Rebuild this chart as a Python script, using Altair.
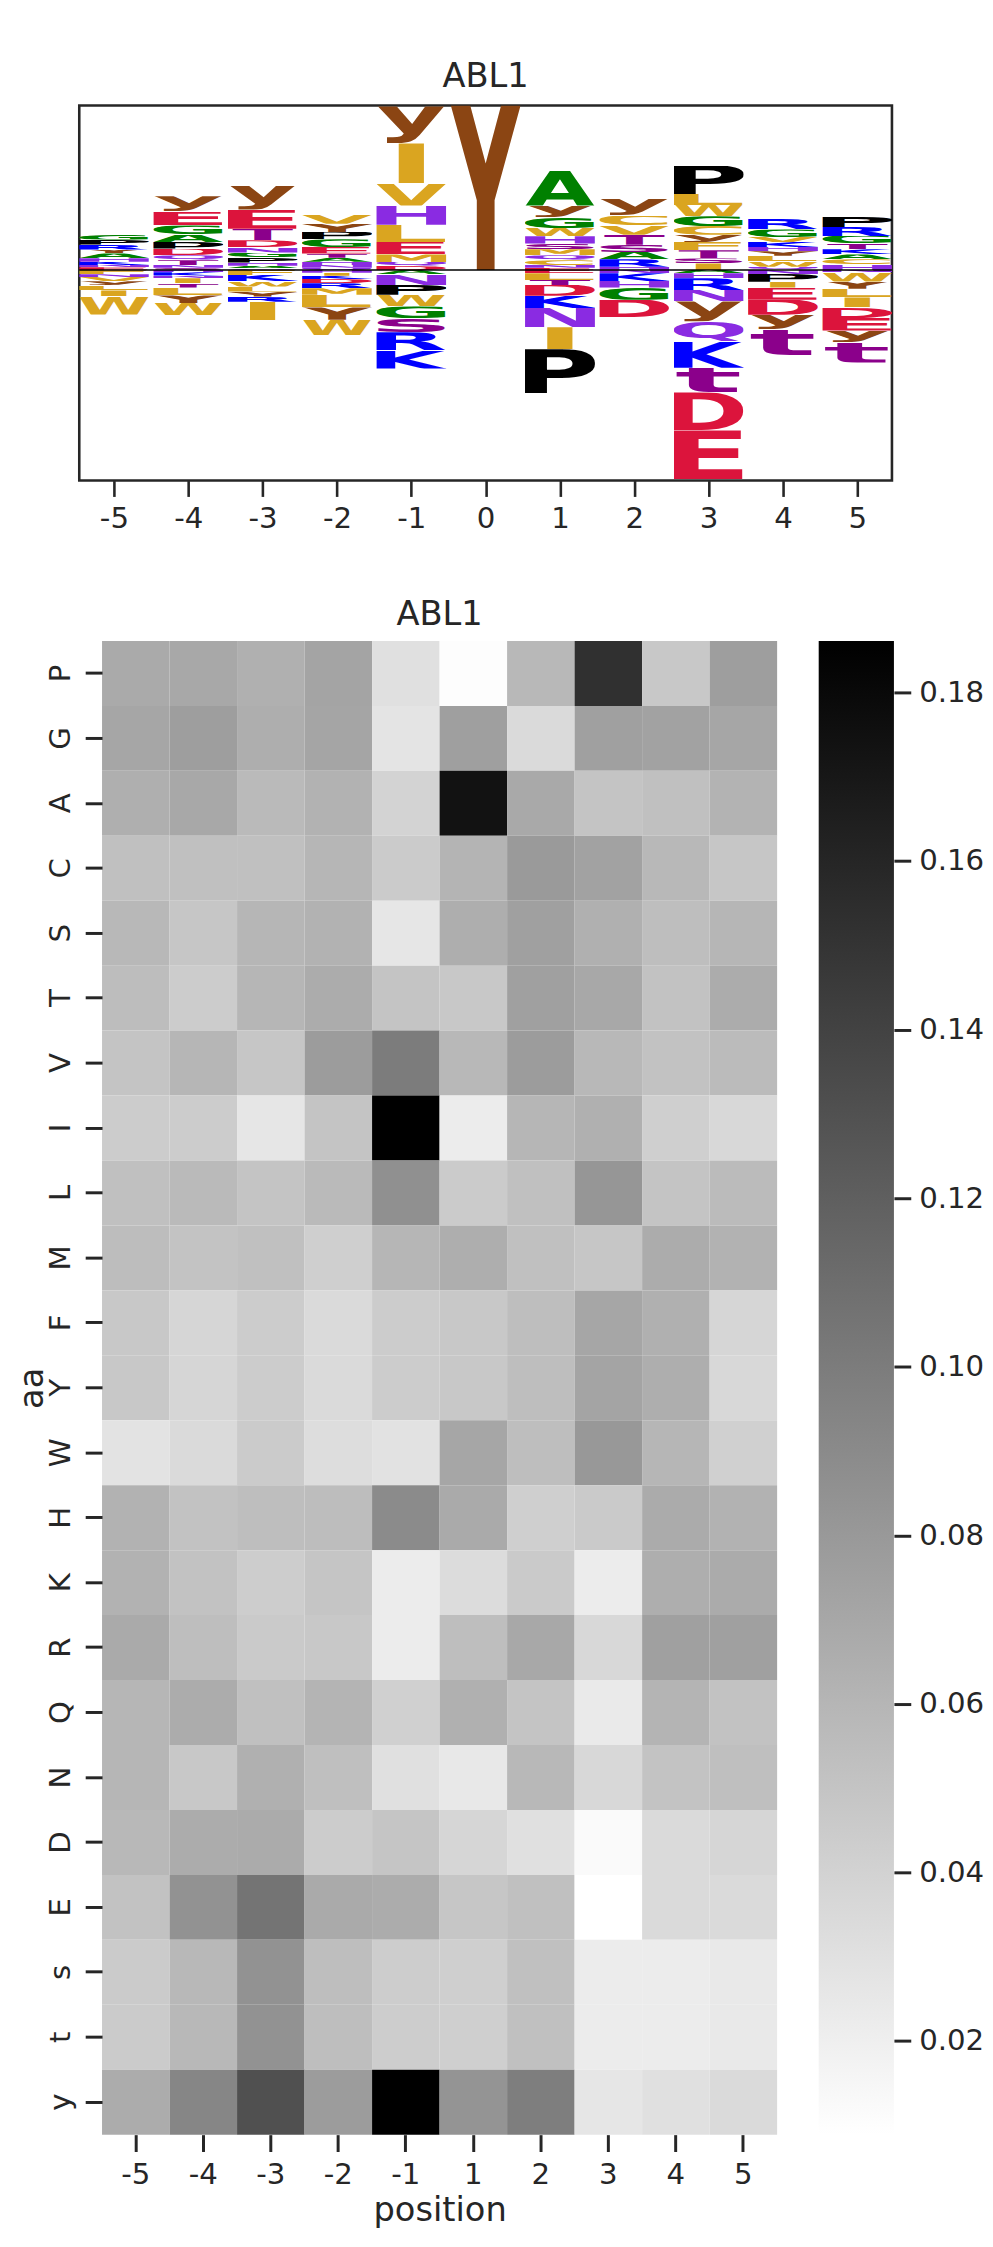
import altair as alt
import pandas as pd
from urllib.parse import quote

FONT = "DejaVu Sans"
INK = "#262626"
TITLE = "ABL1"
LABEL_SIZE = 29.5
TITLE_SIZE = 34

# ---------------- sequence logo (letter, height) stacked outward from zero ----
above_m5 = [("E", .027), ("N", .023), ("K", .033), ("H", .037), ("A", .047), ("Y", .04), ("R", .05), ("P", .05), ("G", .057)]
below_m5 = [("F", .043), ("N", .027), ("V", .043), ("y", .043), ("L", .05), ("I", .06), ("W", .183)]
above_m4 = [("S", .023), ("N", .027), ("T", .05), ("Q", .05), ("D", .067), ("P", .067), ("A", .073), ("G", .093), ("E", .14), ("y", .153)]
below_m4 = [("H", .023), ("K", .033), ("N", .027), ("I", .05), ("T", .043), ("L", .08), ("Y", .077), ("W", .123)]
above_m3 = [("Q", .02), ("A", .023), ("H", .033), ("P", .05), ("G", .05), ("N", .057), ("D", .067), ("T", .117), ("E", .193), ("y", .24)]
below_m3 = [("F", .05), ("K", .06), ("W", .057), ("L", .05), ("Y", .05), ("R", .053), ("I", .183)]
above_m2 = [("Q", .023), ("N", .027), ("H", .033), ("A", .04), ("T", .043), ("E", .067), ("G", .077), ("P", .073), ("Y", .083), ("V", .093)]
below_m2 = [("H", .027), ("I", .03), ("K", .033), ("D", .043), ("R", .05), ("M", .067), ("L", .127), ("Y", .123), ("W", .16)]
above_m1 = [("D", .04), ("Q", .04), ("M", .077), ("E", .127), ("L", .173), ("H", .193), ("V", .227), ("I", .4), ("y", .373)]
below_m1 = [("A", .043), ("N", .107), ("P", .1), ("W", .117), ("G", .123), ("S", .137), ("R", .183), ("K", .183)]
above_0 = [("Y", 1.66)]
below_0 = []
above_1 = [("E", .023), ("N", .027), ("C", .05), ("Q", .05), ("M", .06), ("S", .057), ("H", .073), ("W", .083), ("G", .11), ("y", .117), ("A", .35)]
below_1 = [("E", .033), ("L", .067), ("T", .05), ("D", .11), ("K", .123), ("N", .193), ("I", .223), ("P", .44)]
above_2 = [("H", .033), ("R", .077), ("A", .073), ("S", .073), ("T", .1), ("V", .093), ("C", .1), ("y", .167)]
below_2 = [("N", .033), ("K", .077), ("H", .067), ("G", .123), ("D", .177)]
above_3 = [("I", .067), ("S", .05), ("T", .083), ("F", .083), ("y", .073), ("C", .087), ("G", .1), ("W", .113), ("L", .11), ("P", .283)]
below_3 = [("A", .033), ("H", .05), ("R", .117), ("N", .117), ("y", .2), ("Q", .2), ("K", .267), ("t", .25), ("D", .383), ("E", .493)]
above_4 = [("Q", .033), ("W", .057), ("L", .053), ("Y", .047), ("H", .043), ("K", .05), ("V", .05), ("G", .077), ("R", .107)]
below_4 = [("N", .04), ("P", .077), ("I", .06), ("E", .123), ("D", .15), ("y", .15), ("t", .257)]
above_5 = [("H", .057), ("C", .053), ("A", .047), ("K", .053), ("T", .057), ("G", .077), ("R", .09), ("P", .1)]
below_5 = [("N", .023), ("W", .093), ("Y", .073), ("L", .087), ("I", .1), ("D", .107), ("E", .127), ("y", .123), ("t", .2)]

logo_positions = [-5, -4, -3, -2, -1, 0, 1, 2, 3, 4, 5]
logo_above = [above_m5, above_m4, above_m3, above_m2, above_m1, above_0, above_1, above_2, above_3, above_4, above_5]
logo_below = [below_m5, below_m4, below_m3, below_m2, below_m1, below_0, below_1, below_2, below_3, below_4, below_5]

# ---------------- heatmap ---------------------------------------------------
aa_order = ["P", "G", "A", "C", "S", "T", "V", "I", "L", "M", "F", "Y", "W", "H", "K", "R", "Q", "N", "D", "E", "s", "t", "y"]
pos_labels = ["-5", "-4", "-3", "-2", "-1", "1", "2", "3", "4", "5"]
row_P = [0.0680, 0.0693, 0.0638, 0.0721, 0.0304, 0.0103, 0.0582, 0.1527, 0.0471, 0.0763]
row_G = [0.0707, 0.0763, 0.0652, 0.0714, 0.0276, 0.0756, 0.0346, 0.0749, 0.0735, 0.0707]
row_A = [0.0645, 0.0693, 0.0568, 0.0624, 0.0395, 0.1736, 0.0686, 0.0499, 0.0527, 0.0617]
row_C = [0.0527, 0.0527, 0.0527, 0.0596, 0.0450, 0.0610, 0.0791, 0.0735, 0.0582, 0.0485]
row_S = [0.0582, 0.0485, 0.0596, 0.0624, 0.0262, 0.0652, 0.0749, 0.0638, 0.0540, 0.0596]
row_T = [0.0547, 0.0443, 0.0596, 0.0666, 0.0499, 0.0471, 0.0749, 0.0693, 0.0513, 0.0666]
row_V = [0.0499, 0.0596, 0.0485, 0.0777, 0.0999, 0.0582, 0.0777, 0.0582, 0.0513, 0.0561]
row_I = [0.0443, 0.0443, 0.0262, 0.0499, 0.1861, 0.0221, 0.0596, 0.0638, 0.0422, 0.0360]
row_L = [0.0527, 0.0568, 0.0499, 0.0568, 0.0860, 0.0450, 0.0527, 0.0819, 0.0499, 0.0561]
row_M = [0.0547, 0.0506, 0.0527, 0.0422, 0.0596, 0.0652, 0.0527, 0.0485, 0.0666, 0.0624]
row_F = [0.0471, 0.0374, 0.0443, 0.0346, 0.0443, 0.0471, 0.0540, 0.0707, 0.0638, 0.0374]
row_Y = [0.0471, 0.0374, 0.0443, 0.0346, 0.0443, 0.0471, 0.0540, 0.0721, 0.0652, 0.0360]
row_W = [0.0283, 0.0346, 0.0450, 0.0325, 0.0290, 0.0707, 0.0540, 0.0805, 0.0596, 0.0415]
row_H = [0.0624, 0.0513, 0.0540, 0.0547, 0.0895, 0.0680, 0.0422, 0.0457, 0.0673, 0.0624]
row_K = [0.0624, 0.0513, 0.0436, 0.0492, 0.0221, 0.0332, 0.0457, 0.0221, 0.0652, 0.0673]
row_R = [0.0680, 0.0540, 0.0457, 0.0471, 0.0221, 0.0540, 0.0693, 0.0360, 0.0749, 0.0749]
row_Q = [0.0596, 0.0666, 0.0527, 0.0610, 0.0415, 0.0638, 0.0499, 0.0235, 0.0610, 0.0513]
row_N = [0.0596, 0.0471, 0.0638, 0.0534, 0.0304, 0.0249, 0.0582, 0.0360, 0.0506, 0.0534]
row_D = [0.0582, 0.0666, 0.0673, 0.0443, 0.0492, 0.0374, 0.0304, 0.0124, 0.0346, 0.0374]
row_E = [0.0513, 0.0846, 0.1055, 0.0680, 0.0666, 0.0485, 0.0527, 0.0089, 0.0346, 0.0346]
row_s = [0.0450, 0.0582, 0.0846, 0.0540, 0.0436, 0.0422, 0.0527, 0.0221, 0.0221, 0.0242]
row_t = [0.0450, 0.0582, 0.0846, 0.0540, 0.0436, 0.0422, 0.0527, 0.0221, 0.0221, 0.0242]
row_y = [0.0666, 0.0930, 0.1305, 0.0777, 0.1861, 0.0832, 0.0985, 0.0262, 0.0304, 0.0346]
heat_rows = [row_P, row_G, row_A, row_C, row_S, row_T, row_V, row_I, row_L, row_M, row_F, row_Y,
             row_W, row_H, row_K, row_R, row_Q, row_N, row_D, row_E, row_s, row_t, row_y]
cbar_min, cbar_max = 0.0089, 0.1861
cbar_ticks = [0.02, 0.04, 0.06, 0.08, 0.10, 0.12, 0.14, 0.16, 0.18]

# ---------------- glyph styling --------------------------------------------
GOLD, BROWN, PURPLE, MAGENTA = "#DAA520", "#8B4513", "#8A2BE2", "#8B008B"
BLUE, RED, GREEN, BLACK = "#0000FF", "#DC143C", "#008000", "#000000"
letter_color = {
    "A": GREEN, "G": GREEN, "P": BLACK, "Y": BROWN, "y": BROWN,
    "I": GOLD, "V": GOLD, "L": GOLD, "F": GOLD, "W": GOLD, "M": GOLD, "C": GOLD,
    "H": PURPLE, "N": PURPLE, "Q": PURPLE, "K": BLUE, "R": BLUE, "D": RED, "E": RED,
    "S": MAGENTA, "T": MAGENTA, "s": MAGENTA, "t": MAGENTA,
}
# advance, ink xmin, ink xmax, ink ybottom, ink ytop (em units, DejaVu Sans Bold approx.)
glyph_metrics = {
    "A": (.774, .0, .774, 0, .729), "C": (.734, .05, .69, -.013, .742),
    "D": (.830, .092, .78, 0, .729), "E": (.683, .092, .62, 0, .729),
    "F": (.683, .092, .62, 0, .729), "G": (.821, .05, .76, -.013, .742),
    "H": (.837, .092, .745, 0, .729), "I": (.372, .092, .28, 0, .729),
    "K": (.775, .092, .79, 0, .729), "L": (.637, .092, .62, 0, .729),
    "M": (.995, .092, .90, 0, .729), "N": (.837, .092, .745, 0, .729),
    "P": (.733, .092, .69, 0, .729), "Q": (.850, .05, .80, -.16, .742),
    "R": (.770, .092, .76, 0, .729), "S": (.720, .06, .66, -.013, .742),
    "T": (.682, .0, .68, 0, .729), "V": (.774, .0, .774, 0, .729),
    "W": (1.103, .02, 1.08, 0, .729), "Y": (.724, -.01, .73, 0, .729),
    "s": (.595, .05, .55, -.013, .56), "t": (.478, .03, .45, 0, .70),
    "y": (.652, .0, .65, -.208, .547),
}
width_frac = {"I": .36, "t": .85, "T": .87}


def glyph_url(ch):
    adv, xmin, xmax, ybot, ytop = glyph_metrics[ch]
    frac = width_frac.get(ch, 1.0)
    fs = 100.0 / (ytop - ybot)
    tl = frac * 100.0 * adv / (xmax - xmin)
    x0 = 50 - frac * 50 - xmin / adv * tl
    base = ytop * fs
    svg = ('<svg xmlns="http://www.w3.org/2000/svg" width="100" height="100" viewBox="0 0 100 100" '
           'preserveAspectRatio="none"><text x="%.2f" y="%.2f" font-family="DejaVu Sans" font-weight="bold" '
           'font-size="%.2f" textLength="%.2f" lengthAdjust="spacingAndGlyphs" fill="%s">%s</text></svg>'
           % (x0, base, fs, tl, letter_color[ch], ch))
    return "data:image/svg+xml," + quote(svg, safe="")


half_w = 0.47
rows = []
for p, up, down in zip(logo_positions, logo_above, logo_below):
    acc = 0.0
    for ch, h in up:
        rows.append({"pos": p, "letter": ch, "x0": p - half_w, "x1": p + half_w,
                     "y0": acc, "y1": acc + h, "url": glyph_url(ch)})
        acc += h
    acc = 0.0
    for ch, h in down:
        rows.append({"pos": p, "letter": ch, "x0": p - half_w, "x1": p + half_w,
                     "y0": acc - h, "y1": acc, "url": glyph_url(ch)})
        acc -= h
logo_df = pd.DataFrame(rows)

xdom = [-5.466, 5.466]
ydom = [-2.123, 1.66]

letters = alt.Chart(logo_df).mark_image(aspect=False, clip=True).encode(
    x=alt.X("x0:Q", scale=alt.Scale(domain=xdom, nice=False, zero=False),
            axis=alt.Axis(values=logo_positions, labelExpr="datum.value", title=None, grid=False,
                          domain=False, ticks=True, tickSize=16, tickWidth=2.6, tickColor=INK,
                          labelFontSize=LABEL_SIZE, labelColor=INK, labelFont=FONT,
                          labelBaseline="alphabetic", labelPadding=31)),
    x2="x1:Q",
    y=alt.Y("y0:Q", scale=alt.Scale(domain=ydom, nice=False, zero=False), axis=None),
    y2="y1:Q",
    url="url:N",
)
zero_line = alt.Chart(pd.DataFrame({"y0": [0.0]})).mark_rule(color="black", strokeWidth=1.4).encode(
    y=alt.Y("y0:Q", scale=alt.Scale(domain=ydom, nice=False, zero=False), axis=None)
)
logo = alt.layer(letters, zero_line).properties(
    width=821, height=379,
    title=alt.TitleParams(TITLE, fontSize=TITLE_SIZE, font=FONT, color=INK, fontWeight="normal",
                          anchor="middle", frame="group", baseline="alphabetic", offset=-15),
    view=alt.ViewBackground(stroke=INK, strokeWidth=2.6),
)

heat_records = []
for aa, vals in zip(aa_order, heat_rows):
    for lab, v in zip(pos_labels, vals):
        heat_records.append({"aa": aa, "position": lab, "value": v})
heat_df = pd.DataFrame(heat_records)

heat = alt.Chart(heat_df).mark_rect().encode(
    x=alt.X("position:O", sort=pos_labels,
            scale=alt.Scale(range=[23, 705], paddingInner=0, paddingOuter=0),
            axis=alt.Axis(title="position", labelAngle=0, domain=False, tickSize=17, tickWidth=3,
                          tickColor=INK, labelFontSize=LABEL_SIZE, labelColor=INK, labelFont=FONT,
                          labelBaseline="alphabetic", labelPadding=32.5,
                          titleFontSize=TITLE_SIZE, titleFont=FONT, titleColor=INK,
                          titleFontWeight="normal", titleY=87, titleBaseline="alphabetic")),
    y=alt.Y("aa:O", sort=aa_order, scale=alt.Scale(paddingInner=0, paddingOuter=0),
            axis=alt.Axis(title="aa", offset=-23, domain=False, tickSize=17, tickWidth=3,
                          tickColor=INK, labelFontSize=LABEL_SIZE, labelColor=INK, labelFont=FONT,
                          labelAngle=270, labelAlign="center", labelBaseline="alphabetic",
                          labelPadding=16, titleFontSize=TITLE_SIZE, titleFont=FONT, titleColor=INK,
                          titleFontWeight="normal", titleAngle=270, titleAlign="center",
                          titleBaseline="alphabetic", titleX=-60.5, titleY=754.5)),
    color=alt.Color("value:Q",
                    scale=alt.Scale(domain=[cbar_min, cbar_max], range=["#ffffff", "#000000"],
                                    interpolate="rgb"),
                    legend=None),
).properties(
    width=705, height=1509,
    title=alt.TitleParams(TITLE, fontSize=TITLE_SIZE, font=FONT, color=INK, fontWeight="normal",
                          anchor="middle", frame="group", baseline="alphabetic", offset=-18, dx=11.5),
)

# colour bar: one rect spanning the colour-scale domain, filled with the same white->black ramp
cbar_df = pd.DataFrame({"lo": [cbar_min], "hi": [cbar_max]})
cbar = alt.Chart(cbar_df).mark_rect(
    fill=alt.Gradient(gradient="linear",
                      stops=[alt.GradientStop(color="#ffffff", offset=0),
                             alt.GradientStop(color="#000000", offset=1)],
                      x1=0, x2=0, y1=1, y2=0)
).encode(
    x=alt.value(0), x2=alt.value(76),
    y=alt.Y("lo:Q", scale=alt.Scale(domain=[cbar_min, cbar_max], nice=False, zero=False),
            axis=alt.Axis(orient="right", values=cbar_ticks, format=".2f", title=None, grid=False,
                          domain=False, tickSize=17, tickWidth=3, tickColor=INK,
                          labelFontSize=LABEL_SIZE, labelColor=INK, labelFont=FONT, labelPadding=8)),
    y2="hi:Q",
).properties(width=76, height=1509)

bottom_row = alt.hconcat(heat, cbar, spacing=42, bounds="flush")

chart = alt.vconcat(logo, bottom_row, spacing=162, bounds="flush").properties(
    padding={"left": 7, "top": 39, "right": 0, "bottom": 0}
).configure(font=FONT).configure_view(stroke="transparent")

chart.save("out.html", embed_options={"renderer": "svg", "actions": False})
